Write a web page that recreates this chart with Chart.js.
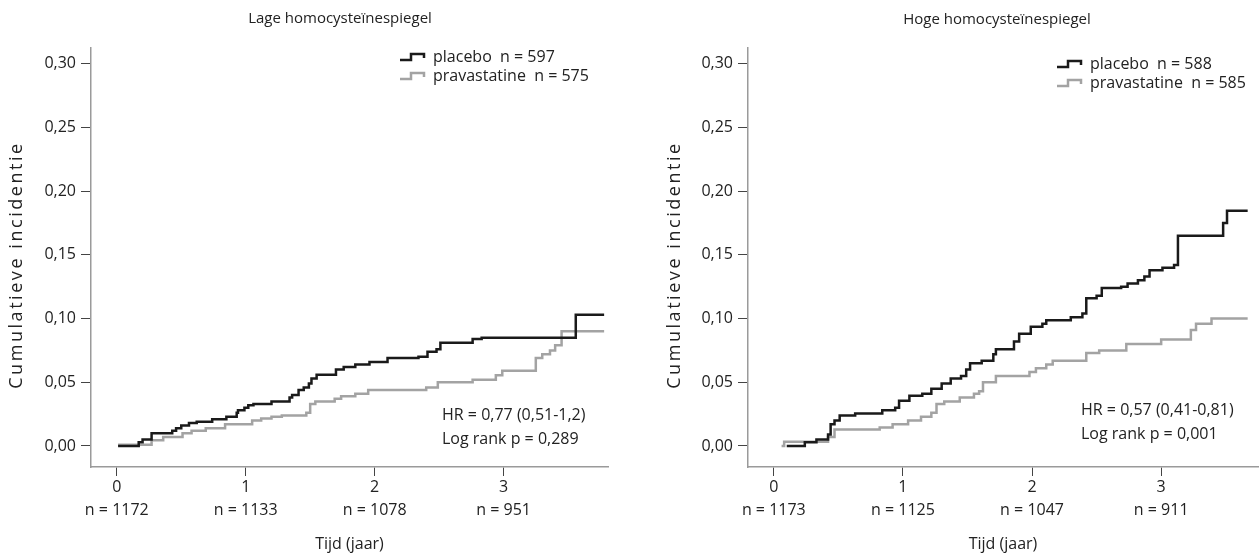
<!DOCTYPE html>
<html>
<head>
<meta charset="utf-8">
<script src="https://cdn.jsdelivr.net/npm/chart.js@4.4.1/dist/chart.umd.min.js"></script>
<style>
html, body { margin: 0; padding: 0; background: #fff; }
#wrap { position: relative; width: 1259px; height: 556px; }
.box { position: absolute; top: 0; height: 556px; }
</style>
</head>
<body>
<div id="wrap">
  <div class="box" style="left:0;width:640px"><canvas id="left"></canvas></div>
  <div class="box" style="left:640px;width:619px"><canvas id="right"></canvas></div>
</div>
<script>
// DATA
const xTicks = [0, 1, 2, 3];
const yTicks = [0, 0.05, 0.10, 0.15, 0.20, 0.25, 0.30];
const lowAtRisk = ['n = 1172', 'n = 1133', 'n = 1078', 'n = 951'];
const highAtRisk = ['n = 1173', 'n = 1125', 'n = 1047', 'n = 911'];

const lowPlaceboT = [0.01,0.17,0.20,0.27,0.43,0.46,0.50,0.56,0.62,0.74,0.85,0.93,0.94,0.99,1.02,1.06,1.20,1.34,1.36,1.41,1.45,1.49,1.51,1.55,1.70,1.76,1.85,1.96,2.10,2.34,2.41,2.48,2.51,2.76,2.83,3.56,3.78];
const lowPlaceboY = [0,0.003,0.005,0.010,0.012,0.014,0.016,0.018,0.019,0.021,0.023,0.026,0.028,0.030,0.032,0.033,0.035,0.038,0.040,0.044,0.046,0.049,0.053,0.056,0.060,0.062,0.064,0.066,0.069,0.070,0.074,0.076,0.081,0.084,0.085,0.103,0.103];
const lowPravaT = [0.01,0.27,0.36,0.51,0.58,0.69,0.84,1.05,1.12,1.20,1.28,1.47,1.50,1.54,1.69,1.74,1.85,1.95,2.40,2.49,2.76,2.94,2.99,3.25,3.30,3.36,3.40,3.45,3.78];
const lowPravaY = [0.001,0.0045,0.007,0.010,0.012,0.014,0.017,0.020,0.0215,0.023,0.024,0.026,0.033,0.035,0.037,0.039,0.041,0.044,0.046,0.050,0.052,0.0555,0.059,0.069,0.072,0.075,0.079,0.090,0.090];

const highPlaceboT = [0.10,0.24,0.33,0.42,0.44,0.47,0.51,0.63,0.84,0.94,0.97,1.05,1.15,1.22,1.30,1.37,1.45,1.49,1.52,1.61,1.70,1.72,1.86,1.90,1.99,2.08,2.11,2.30,2.39,2.42,2.50,2.54,2.69,2.74,2.82,2.87,2.91,3.01,3.10,3.13,3.48,3.51,3.67];
const highPlaceboY = [0,0.003,0.005,0.009,0.017,0.020,0.024,0.0255,0.028,0.030,0.0355,0.0395,0.041,0.045,0.049,0.053,0.055,0.060,0.065,0.067,0.072,0.076,0.082,0.088,0.0935,0.096,0.0987,0.101,0.104,0.116,0.118,0.124,0.125,0.1275,0.130,0.133,0.138,0.140,0.142,0.165,0.175,0.1846,0.1846];
const highPravaT = [0.06,0.08,0.42,0.47,0.82,0.92,1.04,1.14,1.22,1.26,1.32,1.44,1.55,1.59,1.62,1.72,1.98,2.03,2.11,2.16,2.42,2.52,2.73,3.00,3.23,3.27,3.39,3.67];
const highPravaY = [0,0.0034,0.007,0.013,0.0145,0.017,0.020,0.023,0.026,0.033,0.035,0.038,0.041,0.043,0.050,0.055,0.058,0.061,0.064,0.067,0.073,0.075,0.080,0.0835,0.091,0.096,0.100,0.100];

const FAMILY = "'Open Sans', sans-serif";
const TXT = '#222';
Chart.defaults.font.family = FAMILY;
Chart.defaults.font.size = 16;
Chart.defaults.color = TXT;

function pts(t, y) { return t.map((v, i) => ({x: v, y: y[i]})); }

// title, y title, legend and HR text drawn on top
const extras = {
  id: 'extras',
  afterDraw(chart, args, o) {
    const ctx = chart.ctx;
    ctx.save();
    ctx.fillStyle = TXT;
    ctx.textBaseline = 'middle';
    ctx.font = '15px ' + FAMILY;
    ctx.textAlign = 'center';
    ctx.fillText(o.title, o.titleX, o.titleY);

    // y axis title, long like the original
    ctx.font = '18px ' + FAMILY;
    const yt = 'Cumulatieve incidentie';
    const w = ctx.measureText(yt).width;
    ctx.save();
    ctx.translate(o.yTitleX, 265);
    ctx.rotate(-Math.PI / 2);
    ctx.letterSpacing = Math.max(0, (245 - w) / (yt.length - 1)).toFixed(2) + 'px';
    ctx.fillText(yt, 0, 0);
    ctx.restore();

    ctx.font = '16px ' + FAMILY;
    ctx.textAlign = 'left';
    chart.data.datasets.forEach((ds, i) => {
      const x = o.legendX, y = o.legendY + i * 19;
      ctx.strokeStyle = ds.borderColor;
      ctx.lineWidth = 2.5;
      ctx.beginPath();
      ctx.moveTo(x, y + 3); ctx.lineTo(x + 11, y + 3); ctx.lineTo(x + 11, y - 3);
      ctx.lineTo(x + 24, y - 3); ctx.lineTo(x + 24, y + 1);
      ctx.stroke();
      ctx.fillText(ds.label, x + 33, y);
    });
    o.stats.forEach((s, i) => ctx.fillText(s, o.statsX, o.statsY + i * 24));
    ctx.restore();
  }
};

function makeChart(id, c) {
  const config = {
    type: 'line',
    data: {
      datasets: [
        {label: c.labels[0], data: pts(c.t1, c.y1), borderColor: '#1a1a1a'},
        {label: c.labels[1], data: pts(c.t2, c.y2), borderColor: '#a3a3a3'}
      ]
    },
    options: {
      responsive: true,
      maintainAspectRatio: false,
      animation: false,
      layout: {padding: {top: 48, right: c.padRight, left: 0, bottom: 0}},
      elements: {
        line: {stepped: true, tension: 0, borderWidth: 2.5},
        point: {radius: 0}
      },
      scales: {
        x: {
          type: 'linear',
          min: -0.2,
          max: c.xMax,
          afterBuildTicks: s => { s.ticks = xTicks.map(v => ({value: v})); },
          afterFit: s => { s.height = 89; },
          grid: {drawOnChartArea: false, drawTicks: true, tickLength: 9, color: '#444'},
          border: {color: '#9a9a9a', width: 1.5},
          ticks: {
            callback: (v, i) => [String(v), c.atRisk[i]],
            font: {size: 16, lineHeight: 1.45},
            padding: 0, maxRotation: 0, autoSkip: false
          },
          title: {display: true, text: 'Tijd (jaar)', font: {size: 16}, padding: {top: 0, bottom: 2}}
        },
        y: {
          min: -0.0165,
          max: 0.3124,
          afterBuildTicks: s => { s.ticks = yTicks.map(v => ({value: v})); },
          afterFit: s => { s.width = c.yWidth; },
          grid: {drawOnChartArea: false, drawTicks: true, tickLength: 10, color: '#444'},
          border: {color: '#9a9a9a', width: 1.5},
          ticks: {
            callback: v => v.toFixed(2).replace('.', ','),
            font: {size: 16}, padding: 5
          }
        }
      },
      plugins: {
        legend: {display: false},
        tooltip: {enabled: false},
        extras: c.extras
      }
    },
    plugins: [extras]
  };
  return new Chart(document.getElementById(id), config);
}

makeChart('left', {
  labels: ['placebo  n = 597', 'pravastatine  n = 575'],
  t1: lowPlaceboT, y1: lowPlaceboY, t2: lowPravaT, y2: lowPravaY,
  atRisk: lowAtRisk, xMax: 3.81, padRight: 32, yWidth: 91,
  extras: {
    title: 'Lage homocysteïnespiegel', titleX: 340, titleY: 19, yTitleX: 17,
    legendX: 400, legendY: 57,
    stats: ['HR = 0,77 (0,51-1,2)', 'Log rank p = 0,289'], statsX: 442, statsY: 415
  }
});

makeChart('right', {
  labels: ['placebo  n = 588', 'pravastatine  n = 585'],
  t1: highPlaceboT, y1: highPlaceboY, t2: highPravaT, y2: highPravaY,
  atRisk: highAtRisk, xMax: 3.75, padRight: 1, yWidth: 108,
  extras: {
    title: 'Hoge homocysteïnespiegel', titleX: 357, titleY: 20, yTitleX: 35,
    legendX: 417, legendY: 64,
    stats: ['HR = 0,57 (0,41-0,81)', 'Log rank p = 0,001'], statsX: 441, statsY: 410
  }
});
</script>
</body>
</html>
